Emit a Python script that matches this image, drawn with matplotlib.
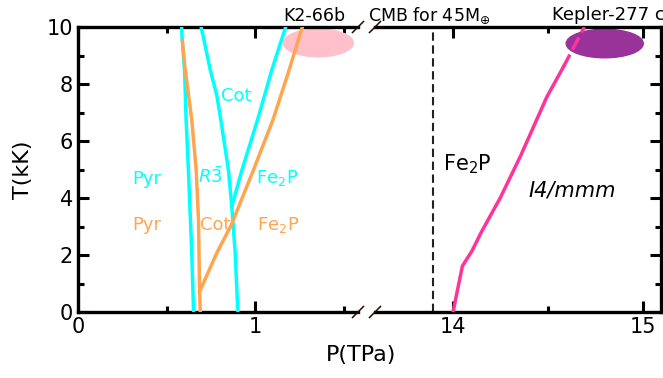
import matplotlib
matplotlib.use('Agg')
import matplotlib.pyplot as plt
from matplotlib.patches import Ellipse
from matplotlib.ticker import MultipleLocator
from matplotlib.lines import Line2D

# phase boundaries, low pressure part (P in TPa, T in kK)
cyan1_P = [0.652, 0.642, 0.623, 0.610, 0.601, 0.591]
cyan1_T = [0.0, 2.07, 4.98, 6.74, 8.5, 9.3]
cyan1_ext_P = [0.588, 0.585]
cyan1_ext_T = [9.55, 9.95]

cyan3_P = [0.902, 0.887, 0.868, 0.849, 0.806, 0.783, 0.746, 0.703]
cyan3_T = [0.0, 2.07, 3.7, 4.98, 6.74, 7.61, 8.5, 9.78]
cyan3_ext_P = [0.700, 0.695]
cyan3_ext_T = [9.85, 10.0]

cyan2_P = [0.868, 0.925, 1.013, 1.094, 1.172]
cyan2_T = [3.7, 4.98, 6.74, 8.5, 10.0]

orange1_P = [0.690, 0.686, 0.680, 0.667, 0.642, 0.605, 0.589]
orange1_T = [0.0, 0.77, 3.23, 4.98, 6.74, 8.5, 9.52]

orange2_P = [0.686, 0.783, 0.865, 0.990, 1.100, 1.192, 1.220, 1.266]
orange2_T = [0.71, 2.07, 3.05, 4.98, 6.74, 8.5, 9.08, 10.0]

# high pressure part
pink_P = [14.0, 14.049, 14.10, 14.15, 14.247, 14.353, 14.493, 14.58]
pink_T = [0.0, 1.61, 2.15, 2.82, 3.99, 5.45, 7.55, 8.6]
pink_ext_P = [14.58, 14.69]
pink_ext_T = [8.6, 10.0]

cmb_P = 13.895

k2_center = (1.356, 9.44)
kepler_center = (14.797, 9.42)

cyan = '#00ffff'
orange = '#ffa54f'
pink = '#ff3399'

W, H = 663, 378
fig = plt.figure(figsize=(W / 100, H / 100), dpi=100)
ax1 = fig.add_axes([78 / W, 66 / H, 280 / W, 285 / H])
ax2 = fig.add_axes([375 / W, 66 / H, 285.5 / W, 285 / H])

lw = 2.5
ax1.plot(cyan1_P, cyan1_T, color=cyan, lw=lw, zorder=3)
ax1.plot(cyan1_ext_P, cyan1_ext_T, color=cyan, lw=lw, zorder=3)
ax1.plot(cyan3_P, cyan3_T, color=cyan, lw=lw, zorder=3)
ax1.plot(cyan3_ext_P, cyan3_ext_T, color=cyan, lw=lw, zorder=3)
ax1.plot(cyan2_P, cyan2_T, color=cyan, lw=lw, zorder=3)
ax1.plot(orange1_P, orange1_T, color=orange, lw=lw, zorder=4)
ax1.plot(orange2_P, orange2_T, color=orange, lw=lw, zorder=4)
ax1.add_patch(Ellipse(k2_center, 0.395, 0.97, color='pink', zorder=2))

ax2.plot(pink_P, pink_T, color=pink, lw=lw, zorder=3)
ax2.plot(pink_ext_P, pink_ext_T, color=pink, lw=lw, dashes=(4, 1.6), zorder=3)
ax2.add_patch(Ellipse(kepler_center, 0.405, 1.0, color='#993399', zorder=2))
ax2.axvline(cmb_P, color='#222222', lw=1.5, ls=(0, (4, 2.2)))

ax1.set_xlim(0, 1.58)
ax2.set_xlim(13.59, 15.09)
for ax in (ax1, ax2):
    ax.set_ylim(0, 10)
    ax.xaxis.set_major_locator(MultipleLocator(1))
    ax.xaxis.set_minor_locator(MultipleLocator(0.5))
    ax.yaxis.set_major_locator(MultipleLocator(2))
    ax.yaxis.set_minor_locator(MultipleLocator(1))
    ax.tick_params(which='both', direction='in', width=2.2, labelsize=15, top=True)
    ax.tick_params(which='major', length=8)
    ax.tick_params(which='minor', length=4)
    for s in ax.spines.values():
        s.set_linewidth(2.4)

ax1.spines['right'].set_visible(False)
ax1.tick_params(which='both', right=False)
ax2.spines['left'].set_visible(False)
ax2.tick_params(which='both', left=False, labelleft=False, right=True)

ax1.set_ylabel('T(kK)', fontsize=16)
ax1.yaxis.set_label_coords(-0.16, 0.5)
fig.text(361 / W, 1 - 355 / H, 'P(TPa)', fontsize=16, ha='center', va='center')

# break marks
for xc in (358, 375):
    for yc in (312, 27):
        fig.add_artist(Line2D([(xc - 5.5) / W, (xc + 5.5) / W],
                              [1 - (yc + 5.5) / H, 1 - (yc - 5.5) / H],
                              color='#2a0a0a', lw=1.1))

fs = 13
ax1.text(0.305, 4.49, 'Pyr', color=cyan, fontsize=fs)
ax1.text(0.678, 4.51, r'$R\bar{3}$', color=cyan, fontsize=fs)
ax1.text(1.006, 4.51, r'Fe$_2$P', color=cyan, fontsize=fs)
ax1.text(0.808, 7.41, 'Cot', color=cyan, fontsize=fs)
ax1.text(0.305, 2.88, 'Pyr', color=orange, fontsize=fs)
ax1.text(0.689, 2.88, 'Cot', color=orange, fontsize=fs)
ax1.text(1.010, 2.88, r'Fe$_2$P', color=orange, fontsize=fs)

ax1.text(1.333, 10.21, 'K2-66b', fontsize=12.5, ha='center', clip_on=False)
ax2.text(13.553, 10.21, r'CMB for 45M$_{\oplus}$', fontsize=12.5, clip_on=False)
ax2.text(14.522, 10.23, 'Kepler-277 c', fontsize=13, clip_on=False)

ax2.text(13.947, 4.98, r'Fe$_2$P', fontsize=15)
ax2.text(14.395, 4.05, 'I4/mmm', fontsize=15, fontstyle='italic')

fig.savefig('out.png', dpi=100)
